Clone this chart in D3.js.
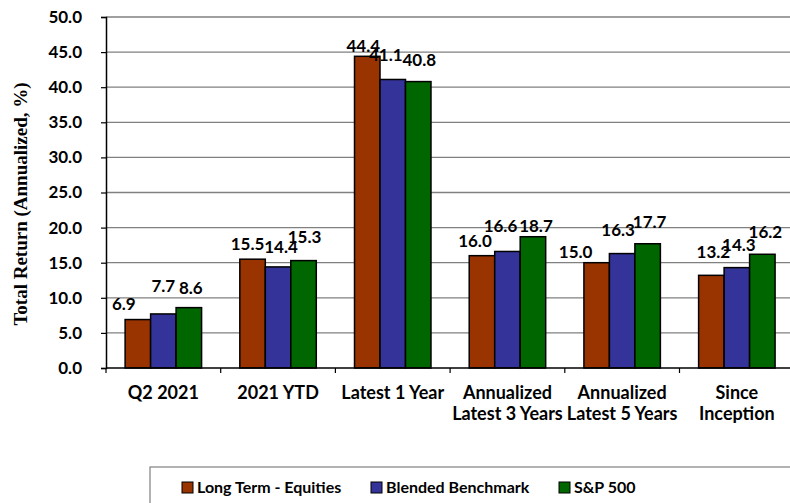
<!DOCTYPE html>
<html>
<head>
<meta charset="utf-8">
<script src="https://cdn.jsdelivr.net/npm/d3@7"></script>
<style>
  body { margin: 0; background: #fff; }
  svg { display: block; }
</style>
</head>
<body>
<div id="chart"></div>
<script>
// data
const categories = ["Q2 2021", "2021 YTD", "Latest 1 Year", "Annualized|Latest 3 Years", "Annualized|Latest 5 Years", "Since|Inception"];
const seriesNames = ["Long Term - Equities", "Blended Benchmark", "S&P 500"];
const longTerm = [6.9, 15.5, 44.4, 16.0, 15.0, 13.2];
const blended = [7.7, 14.4, 41.1, 16.6, 16.3, 14.3];
const sp500 = [8.6, 15.3, 40.8, 18.7, 17.7, 16.2];
const yTicks = [0, 5, 10, 15, 20, 25, 30, 35, 40, 45, 50];

const colors = ["#993300", "#333399", "#006600"];
// hand placed data labels in the original (dx, dy from bar top)
const labelNudge = [
  [[-14, -10], [-5, -9], [-4, -4], [-7, -9], [-21, -5], [2, -17]],
  [[0, -22], [3, -14], [-7, -18], [-7, -19], [-4, -18], [2, -17]],
  [[2, -14], [1, -18], [1, -16], [3, -5], [2, -16], [3, -16]]
];

const W = 790, H = 503;
const margin = {top: 17, left: 106, bottom: 135};
const plotH = H - margin.top - margin.bottom;
const step = 114.7;

const svg = d3.select("#chart").append("svg")
  .attr("width", W).attr("height", H);

const x = d3.scaleBand()
  .domain(categories)
  .range([margin.left, margin.left + step * categories.length])
  .padding(0);

const xs = d3.scaleBand()
  .domain(d3.range(seriesNames.length))
  .range([0, x.bandwidth()])
  .paddingInner(0)
  .paddingOuter(0.75);

const y = d3.scaleLinear()
  .domain([0, 50])
  .range([margin.top + plotH, margin.top]);

const font = "Lato, 'Open Sans', sans-serif";

// gridlines
svg.append("g")
  .selectAll("line")
  .data(yTicks.filter(d => d > 0))
  .join("line")
  .attr("x1", margin.left).attr("x2", W)
  .attr("y1", d => y(d)).attr("y2", d => y(d))
  .attr("stroke", "#808080").attr("stroke-width", 1.3);

// y axis
const yAxis = svg.append("g")
  .attr("transform", `translate(${margin.left},0)`)
  .call(d3.axisLeft(y).tickValues(yTicks).tickFormat(d3.format(".1f")).tickSize(5).tickPadding(19));
yAxis.select(".domain").attr("stroke", "#000").attr("stroke-width", 1.5);
yAxis.selectAll(".tick line").attr("stroke", "#000").attr("stroke-width", 1.2);
yAxis.selectAll(".tick text")
  .attr("font-family", font).attr("font-weight", "bold").attr("font-size", 17).attr("fill", "#000");

// y title
svg.append("text")
  .attr("transform", "translate(27,204) rotate(-90)")
  .attr("text-anchor", "middle")
  .attr("font-family", "'Liberation Serif', 'Times New Roman', serif")
  .attr("font-weight", "bold").attr("font-size", 19)
  .text("Total Return (Annualized, %)");

// bars
const allSeries = [longTerm, blended, sp500];
const rows = [];
allSeries.forEach((vals, s) => vals.forEach((v, i) => rows.push({s, i, v})));

svg.append("g")
  .selectAll("rect")
  .data(rows)
  .join("rect")
  .attr("x", d => x(categories[d.i]) + xs(d.s))
  .attr("y", d => y(d.v))
  .attr("width", xs.bandwidth())
  .attr("height", d => y(0) - y(d.v))
  .attr("fill", d => colors[d.s])
  .attr("stroke", "#000").attr("stroke-width", 1.5);

// x axis
const xAxis = svg.append("g")
  .attr("transform", `translate(0,${y(0)})`);
xAxis.append("line")
  .attr("x1", margin.left).attr("x2", W)
  .attr("stroke", "#000").attr("stroke-width", 1.5);
xAxis.selectAll(".xt")
  .data(d3.range(categories.length + 1))
  .join("line")
  .attr("x1", i => margin.left + i * x.step()).attr("x2", i => margin.left + i * x.step())
  .attr("y1", 0).attr("y2", 5)
  .attr("stroke", "#000").attr("stroke-width", 1.2);

const catLabels = xAxis.selectAll(".cl")
  .data(categories)
  .join("text")
  .attr("x", d => x(d) + x.bandwidth() / 2)
  .attr("y", 31)
  .attr("text-anchor", "middle")
  .attr("font-family", font).attr("font-weight", "bold").attr("font-size", 18);
catLabels.selectAll("tspan")
  .data(d => d.split("|"))
  .join("tspan")
  .attr("x", function() { return this.parentNode.getAttribute("x"); })
  .attr("dy", (d, i) => i === 0 ? 0 : 21)
  .text(d => d);

// data labels
svg.append("g")
  .selectAll("text")
  .data(rows)
  .join("text")
  .attr("x", d => x(categories[d.i]) + xs(d.s) + xs.bandwidth() / 2 + labelNudge[d.s][d.i][0])
  .attr("y", d => y(d.v) + labelNudge[d.s][d.i][1])
  .attr("text-anchor", "middle")
  .attr("font-family", font).attr("font-weight", "bold").attr("font-size", 17)
  .text(d => d.v.toFixed(1));

// legend
const legend = svg.append("g");
legend.append("rect")
  .attr("x", 150).attr("y", 467).attr("width", 660).attr("height", 60)
  .attr("fill", "#fff").attr("stroke", "#808080").attr("stroke-width", 1.2);
const legendX = [182, 371, 559];
const items = legend.selectAll(".li")
  .data(seriesNames)
  .join("g")
  .attr("transform", (d, i) => `translate(${legendX[i]},482)`);
items.append("rect")
  .attr("width", 11).attr("height", 11)
  .attr("fill", (d, i) => colors[i])
  .attr("stroke", "#000").attr("stroke-width", 1);
items.append("text")
  .attr("x", 15).attr("y", 11)
  .attr("font-family", font).attr("font-weight", "bold").attr("font-size", 16)
  .text(d => d);
</script>
</body>
</html>
